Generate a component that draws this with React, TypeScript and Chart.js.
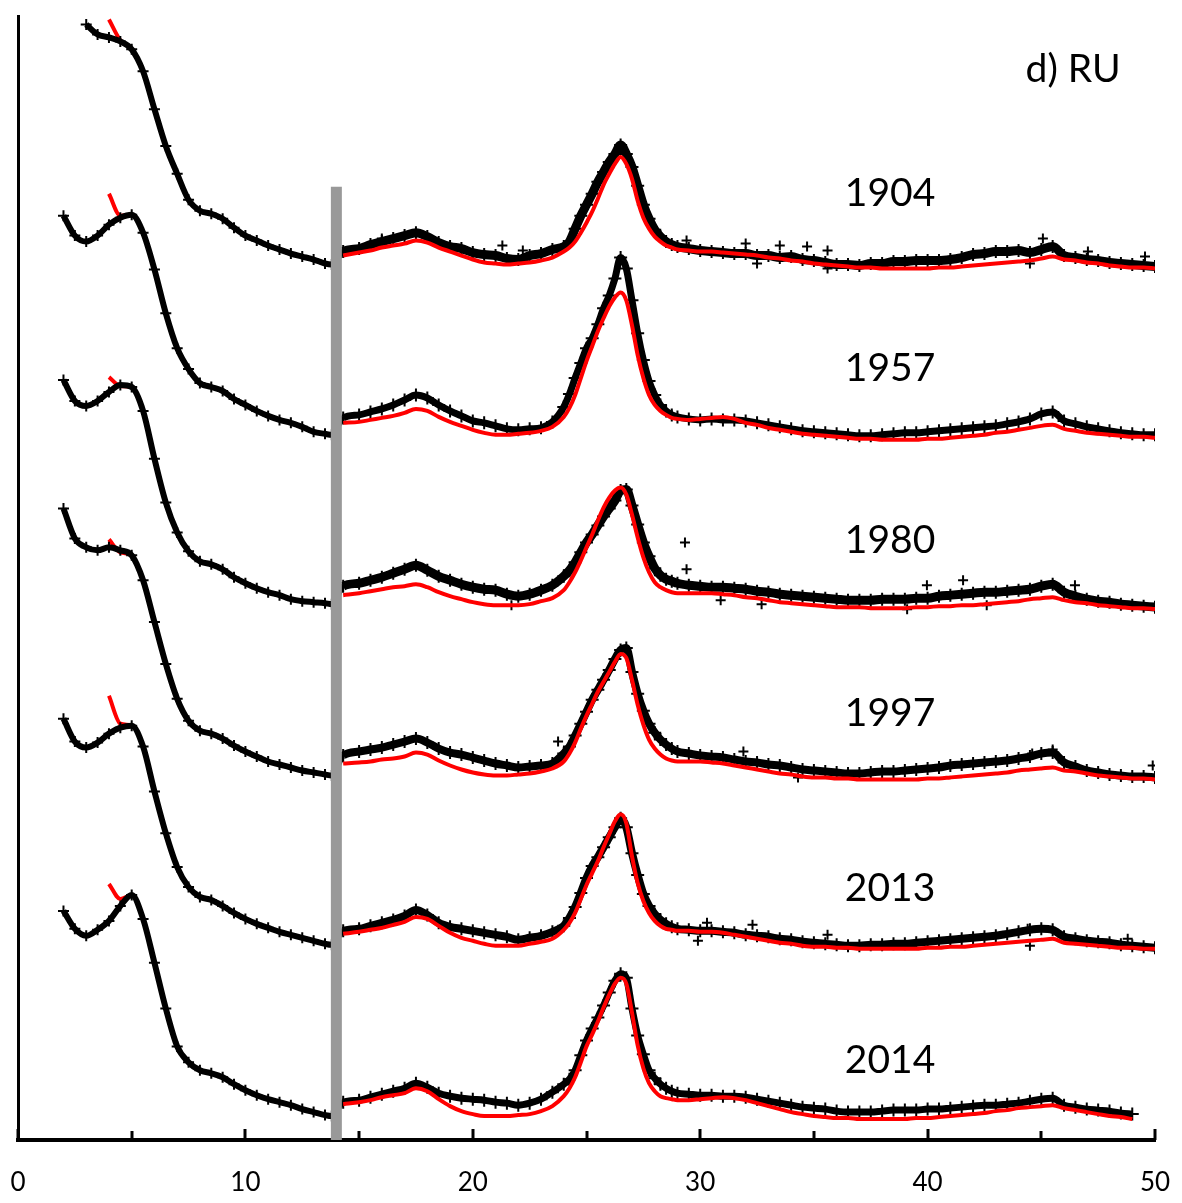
import React, { useEffect, useRef } from "react";
import { Chart, registerables } from "chart.js";

Chart.register(...registerables);

// 2-theta positions (degrees) at which the patterns were read
const TWO_THETA = [
  2, 2.5, 3, 3.5, 4, 4.5, 5, 5.5, 6, 6.5, 7, 7.5, 8, 8.5, 9, 9.5, 10, 10.5, 11, 11.5, 12, 12.5, 13, 13.5, 13.8,
  14.3, 15, 15.5, 16, 16.5, 17, 17.5, 18, 18.5, 19, 19.5, 20, 20.5, 21, 21.5, 22, 22.5, 23, 23.5, 24,
  24.25, 24.5, 24.75, 25, 25.25, 25.5, 25.75, 26, 26.25, 26.5, 26.75, 27, 27.25, 27.5, 27.75, 28, 28.25, 28.5, 28.75, 29,
  29.5, 30, 30.5, 31, 31.5, 32, 32.5, 33, 33.5, 34, 34.5, 35, 35.5, 36, 36.5, 37, 37.5, 38, 38.5, 39, 39.5, 40,
  40.5, 41, 41.5, 42, 42.5, 43, 43.5, 44, 44.5, 45, 45.5, 46, 46.5, 47, 47.5, 48, 48.5, 49, 49.5, 50,
];

// measured intensities (a.u.), each pattern relative to its own baseline
const DATA_1904 = [
  null, null, 260, 250, 247, 243, 235, 213, 175, 138, 110, 84, 73, 70, 65, 56, 48, 43, 38, 34, 30, 27, 24, 20, 19,
  32, 35, 39, 42, 45, 48, 51, 47, 41, 37, 35, 31, 29, 28, 25, 24, 28, 30, 34, 37,
  42, 55, 68, 79, 90, 102, 112, 122, 130, 139, 130, 117, 98, 79, 65, 54, 47, 42, 39, 37,
  35, 33, 32, 31, 30, 30, 28, 28, 26, 27, 24, 23, 21, 19, 19, 18, 20, 20, 22, 22, 23, 23,
  23, 24, 26, 29, 30, 32, 32, 33, 31, 34, 37, 28, 26, 24, 23, 21, 20, 19, 18, 17,
];
const DATA_1957 = [
  238, 218, 212, 218, 229, 236, 239, 221, 184, 140, 105, 84, 70, 66, 62, 54, 48, 42, 37, 33, 30, 26, 21, 19, 18,
  35, 38, 41, 44, 48, 53, 58, 55, 48, 42, 37, 32, 30, 27, 24, 23, 24, 25, 31, 46,
  59, 75, 90, 105, 115, 129, 145, 158, 175, 196, 185, 153, 120, 93, 72, 58, 48, 42, 38, 36,
  34, 33, 34, 33, 33, 32, 30, 28, 26, 24, 22, 21, 20, 19, 18, 17, 17, 18, 19, 20, 20, 21,
  22, 23, 24, 25, 26, 27, 29, 31, 34, 39, 41, 32, 29, 26, 24, 22, 20, 19, 18, 18,
];
const DATA_1980 = [
  243, 222, 217, 222, 231, 238, 236, 212, 164, 120, 90, 71, 61, 58, 53, 45, 39, 34, 30, 27, 23, 21, 20, 19, 18,
  36, 39, 42, 45, 49, 53, 57, 52, 46, 42, 38, 35, 33, 32, 28, 26, 28, 32, 37, 46,
  52, 60, 70, 80, 88, 97, 106, 114, 122, 132, 133, 117, 98, 80, 66, 54, 47, 43, 41, 39,
  37, 36, 35, 35, 34, 33, 31, 30, 28, 27, 26, 25, 24, 23, 22, 22, 22, 23, 23, 23, 24, 24,
  26, 27, 28, 29, 30, 30, 31, 32, 33, 36, 38, 30, 26, 23, 21, 20, 18, 17, 16, 15,
];
const DATA_1997 = [
  284, 254, 245, 242, 245, 242, 237, 212, 170, 128, 93, 71, 61, 58, 53, 46, 40, 35, 30, 27, 24, 21, 19, 17, 16,
  36, 40, 42, 44, 47, 50, 53, 49, 43, 39, 37, 34, 31, 28, 26, 24, 25, 26, 28, 38,
  45, 56, 68, 80, 92, 102, 112, 122, 133, 142, 144, 120, 98, 81, 68, 59, 52, 47, 43, 40,
  38, 36, 35, 34, 32, 30, 29, 27, 26, 24, 22, 21, 20, 19, 18, 18, 19, 20, 20, 21, 22, 23,
  24, 26, 27, 28, 29, 30, 31, 33, 35, 38, 39, 29, 25, 21, 19, 17, 16, 15, 15, 14,
];
const DATA_2013 = [
  243, 220, 214, 219, 228, 234, 236, 215, 170, 128, 94, 74, 64, 61, 55, 48, 42, 37, 33, 29, 26, 23, 20, 17, 16,
  30, 32, 35, 38, 41, 45, 51, 46, 38, 34, 32, 30, 28, 26, 24, 21, 23, 25, 29, 35,
  43, 54, 68, 83, 95, 104, 114, 124, 134, 143, 134, 108, 86, 67, 55, 47, 41, 37, 34, 32,
  31, 30, 30, 29, 28, 26, 25, 24, 22, 21, 19, 18, 17, 16, 15, 15, 16, 16, 17, 17, 18, 19,
  20, 21, 22, 23, 24, 25, 27, 29, 31, 32, 31, 24, 22, 20, 19, 18, 16, 15, 14, 13,
];
const DATA_2014 = [
  220, 202, 195, 201, 210, 225, 236, 212, 168, 122, 84, 68, 60, 57, 53, 46, 40, 35, 31, 28, 25, 21, 18, 15, 14,
  28, 30, 33, 36, 39, 42, 47, 43, 37, 34, 32, 31, 30, 28, 27, 25, 27, 31, 38, 46,
  51, 60, 75, 90, 102, 113, 125, 138, 150, 157, 153, 122, 95, 76, 60, 52, 46, 42, 39, 37,
  36, 35, 35, 34, 34, 33, 31, 29, 27, 25, 23, 22, 21, 19, 18, 18, 18, 19, 20, 20, 20, 21,
  21, 22, 23, 24, 25, 25, 26, 27, 29, 31, 32, 25, 23, 21, 20, 19, 17, 16, null, null,
];

// fitted (calculated) intensities
const FIT_1904 = [
  null, null, null, null, 265, 244, 235, 213, 175, 138, 110, 84, 73, 70, 65, 56, 48, 43, 38, 34, 30, 27, 24, 20, 19,
  28, 31, 33, 36, 38, 40, 43, 41, 36, 32, 28, 24, 21, 20, 19, 20, 21, 23, 26, 32,
  36, 42, 51, 61, 72, 85, 99, 110, 120, 127, 120, 105, 83, 66, 55, 47, 42, 38, 36, 34,
  33, 32, 32, 31, 30, 29, 28, 26, 25, 23, 22, 20, 19, 18, 17, 16, 16, 15, 15, 15, 15, 15,
  16, 16, 17, 18, 19, 20, 21, 22, 23, 25, 27, 24, 23, 21, 20, 18, 17, 16, 16, 15,
];
const FIT_1957 = [
  null, null, null, null, 260, 238, 239, 221, 184, 140, 105, 84, 70, 66, 62, 54, 48, 42, 37, 33, 30, 26, 21, 19, 18,
  30, 31, 33, 35, 37, 40, 44, 42, 36, 31, 27, 23, 20, 18, 18, 19, 20, 22, 26, 36,
  45, 58, 75, 92, 107, 122, 135, 147, 156, 161, 153, 128, 98, 75, 58, 48, 42, 38, 35, 34,
  33, 34, 35, 36, 34, 30, 28, 25, 23, 21, 19, 18, 17, 16, 15, 14, 14, 13, 13, 13, 13, 14,
  14, 15, 16, 17, 18, 20, 21, 23, 25, 27, 28, 24, 22, 20, 19, 18, 17, 16, 16, 15,
];
const FIT_1980 = [
  null, null, null, null, 246, 237, 236, 212, 164, 120, 90, 71, 61, 58, 53, 45, 39, 34, 30, 27, 23, 21, 20, 19, 18,
  27, 29, 31, 33, 35, 36, 38, 35, 30, 26, 23, 20, 18, 17, 17, 17, 18, 21, 24, 32,
  40, 50, 62, 75, 88, 102, 115, 125, 132, 135, 128, 108, 85, 65, 50, 40, 35, 32, 30, 29,
  29, 29, 29, 28, 27, 25, 24, 22, 20, 19, 18, 17, 16, 15, 15, 15, 14, 14, 14, 14, 15, 15,
  16, 16, 17, 17, 18, 19, 20, 21, 23, 24, 25, 22, 20, 19, 17, 16, 15, 14, 14, 13,
];
const FIT_1997 = [
  null, null, null, null, 253, 240, 237, 212, 170, 128, 93, 71, 61, 58, 53, 46, 40, 35, 30, 27, 24, 21, 19, 17, 16,
  28, 29, 30, 32, 33, 35, 39, 37, 31, 26, 22, 19, 17, 16, 16, 17, 18, 20, 23, 30,
  38, 49, 63, 76, 88, 100, 110, 120, 130, 138, 134, 112, 87, 67, 52, 43, 37, 33, 31, 30,
  30, 30, 29, 28, 26, 24, 22, 20, 18, 17, 15, 14, 14, 13, 13, 12, 12, 12, 12, 12, 12, 13,
  13, 14, 15, 16, 17, 18, 19, 21, 22, 23, 24, 21, 20, 18, 16, 15, 14, 13, 13, 12,
];
const FIT_2013 = [
  null, null, null, null, 266, 238, 236, 215, 170, 128, 94, 74, 64, 61, 55, 48, 42, 37, 33, 29, 26, 23, 20, 17, 16,
  27, 29, 31, 33, 36, 39, 44, 42, 35, 28, 23, 20, 17, 15, 15, 15, 17, 19, 22, 31,
  38, 48, 62, 76, 88, 100, 114, 127, 140, 147, 138, 105, 78, 60, 48, 40, 35, 32, 31, 30,
  30, 29, 29, 28, 26, 24, 22, 20, 18, 17, 15, 14, 14, 13, 13, 12, 12, 12, 12, 12, 12, 13,
  13, 14, 14, 15, 16, 17, 18, 19, 20, 21, 22, 18, 17, 16, 15, 14, 13, 13, 12, 12,
];
const FIT_2014 = [
  null, null, null, null, 247, 232, 236, 212, 168, 122, 84, 68, 60, 57, 53, 46, 40, 35, 31, 28, 25, 21, 18, 15, 14,
  26, 28, 30, 33, 35, 37, 42, 39, 31, 24, 19, 16, 14, 14, 14, 15, 16, 19, 24, 34,
  42, 53, 68, 84, 96, 109, 123, 136, 147, 153, 147, 118, 85, 62, 47, 39, 34, 32, 31, 30,
  30, 31, 32, 33, 32, 30, 27, 24, 21, 18, 16, 14, 13, 12, 12, 11, 11, 11, 11, 11, 12, 12,
  13, 14, 15, 16, 17, 19, 20, 22, 23, 24, 25, 22, 20, 18, 16, 14, 13, 11, null, null,
];

const YEARS = ["1904", "1957", "1980", "1997", "2013", "2014"];
const OFFSETS = [860, 690, 520, 350, 180, 10];
const MEASURED = [DATA_1904, DATA_1957, DATA_1980, DATA_1997, DATA_2013, DATA_2014];
const FITTED = [FIT_1904, FIT_1957, FIT_1980, FIT_1997, FIT_2013, FIT_2014];

// stray readings lying off the main band (2-theta, intensity, pattern index)
const STRAY_X = [
  16.0, 21.3, 22.2, 29.4, 32.0, 32.5, 33.5, 34.7, 35.6, 35.6, 44.5, 45.07, 47.05, 49.56,
  21.7, 29.33, 29.4, 30.9, 32.7, 39.1, 39.97, 41.56, 42.6, 46.48,
  23.75, 31.9, 34.3, 44.6, 45.5, 49.9,
  29.9, 30.3, 32.3, 35.6, 44.4, 44.5, 48.8,
];
const STRAY_Y = [
  45, 38, 33, 43, 40, 20, 38, 37, 33, 15, 20, 45, 32, 27,
  17, 80, 53, 22, 18, 13, 37, 42, 17, 37,
  50, 40, 14, 38, 42, 26,
  20, 38, 36, 26, 32, 15, 22,
];
const STRAY_SERIES = [
  0, 0, 0, 0, 0, 0, 0, 0, 0, 0, 0, 0, 0, 0,
  2, 2, 2, 2, 2, 2, 2, 2, 2, 2,
  3, 3, 3, 3, 3, 3,
  4, 4, 4, 4, 4, 4, 4,
];

// cut-off marker at 14 degrees
const CUT_X = 14;
const CUT_TOP = 957;

const LABEL_X = 38.35;
const LABEL_Y = [950, 775, 602, 428, 253, 80];
const PANEL_LABEL = "d) RU";
const PANEL_X = 46.4;
const PANEL_Y = 1075;

const X_TICKS = [0, 5, 10, 15, 20, 25, 30, 35, 40, 45, 50];

// band thickness (px) of the noisy high-angle part of each pattern
const BAND_WIDTH = [9, 7, 9, 8, 8, 7];

const toPoints = (ys: (number | null)[], off: number) =>
  TWO_THETA.map((x, i) => ({ x, y: ys[i] == null ? null : (ys[i] as number) + off })).filter(
    (p) => p.y !== null
  );

const decorPlugin = {
  id: "decor",
  afterDraw(chart: any) {
    const { ctx, chartArea, scales } = chart;
    const xs = scales.x;
    const ys = scales.y;
    ctx.save();
    ctx.strokeStyle = "#000";
    ctx.lineWidth = 3;
    X_TICKS.forEach((t) => {
      const px = Math.round(xs.getPixelForValue(t));
      const len = t % 10 === 0 ? 11 : 9;
      ctx.beginPath();
      ctx.moveTo(px, chartArea.bottom);
      ctx.lineTo(px, chartArea.bottom - len);
      ctx.stroke();
    });
    ctx.fillStyle = "#000";
    ctx.font = "39px Lato";
    ctx.textAlign = "center";
    ctx.textBaseline = "middle";
    YEARS.forEach((yr, i) => {
      ctx.fillText(yr, xs.getPixelForValue(LABEL_X), ys.getPixelForValue(LABEL_Y[i]));
    });
    ctx.fillText(PANEL_LABEL, xs.getPixelForValue(PANEL_X), ys.getPixelForValue(PANEL_Y));
    ctx.restore();
  },
};

export default function App() {
  const canvasRef = useRef<HTMLCanvasElement | null>(null);

  useEffect(() => {
    if (!canvasRef.current) return;
    const datasets: any[] = [];
    datasets.push({
      label: "cut",
      data: [
        { x: CUT_X, y: 0 },
        { x: CUT_X, y: CUT_TOP },
      ],
      borderColor: "#999999",
      borderWidth: 11,
      pointRadius: 0,
      order: 0,
    });
    FITTED.forEach((f, i) => {
      const pts = toPoints(f, OFFSETS[i]);
      // low-angle part of the fit lies beneath the measured band
      datasets.push({
        label: "fit low " + YEARS[i],
        data: pts.filter((p) => p.x < CUT_X),
        borderColor: "#ff0000",
        borderWidth: 4,
        pointRadius: 0,
        cubicInterpolationMode: "monotone",
        order: 3,
      });
      datasets.push({
        label: "fit " + YEARS[i],
        data: pts.filter((p) => p.x > CUT_X),
        borderColor: "#ff0000",
        borderWidth: 4,
        pointRadius: 0,
        cubicInterpolationMode: "monotone",
        order: 1,
      });
    });
    MEASURED.forEach((d, i) => {
      const wide = BAND_WIDTH[i];
      datasets.push({
        label: YEARS[i],
        data: toPoints(d, OFFSETS[i]),
        borderColor: "#000",
        backgroundColor: "#000",
        borderWidth: 6,
        segment: {
          borderWidth: (c: any) => (c.p0.parsed.x > CUT_X ? wide : 6),
        },
        pointStyle: "cross",
        pointRadius: (c: any) => (c.parsed && c.parsed.x > CUT_X ? 6.5 : 5.5),
        pointBorderWidth: 2,
        pointBorderColor: "#000",
        cubicInterpolationMode: "monotone",
        order: 2,
      });
    });
    datasets.push({
      label: "stray",
      data: STRAY_X.map((x, i) => ({ x, y: STRAY_Y[i] + OFFSETS[STRAY_SERIES[i]] })),
      showLine: false,
      pointStyle: "cross",
      pointRadius: 5,
      pointBorderWidth: 2,
      pointBorderColor: "#000",
      borderColor: "#000",
      order: 2,
    });

    const chart = new Chart(canvasRef.current, {
      type: "line",
      data: { datasets },
      plugins: [decorPlugin],
      options: {
        animation: false,
        responsive: true,
        maintainAspectRatio: false,
        events: [],
        layout: { padding: { top: 4, right: 19, left: 0, bottom: 0 } },
        plugins: { legend: { display: false }, tooltip: { enabled: false } },
        scales: {
          x: {
            type: "linear",
            min: 0,
            max: 50,
            afterFit: (s: any) => {
              s.height = 55;
            },
            ticks: {
              stepSize: 10,
              padding: 2,
              autoSkip: false,
              maxRotation: 0,
              color: "#000",
              font: { family: "Lato", size: 26 },
            },
            grid: {
              display: true,
              drawOnChartArea: false,
              drawTicks: true,
              tickLength: 25,
              tickColor: "rgba(0,0,0,0)",
              color: "rgba(0,0,0,0)",
            },
            border: { display: true, color: "#000", width: 4 },
          },
          y: {
            type: "linear",
            min: 0,
            max: 1128,
            afterFit: (s: any) => {
              s.width = 10;
            },
            ticks: { display: false },
            grid: { display: true, drawOnChartArea: false, drawTicks: false },
            border: { display: true, color: "#000", width: 3 },
          },
        },
      } as any,
    });
    return () => chart.destroy();
  }, []);

  return (
    <div style={{ position: "relative", width: 1166, height: 1187 }}>
      <canvas ref={canvasRef} />
    </div>
  );
}
